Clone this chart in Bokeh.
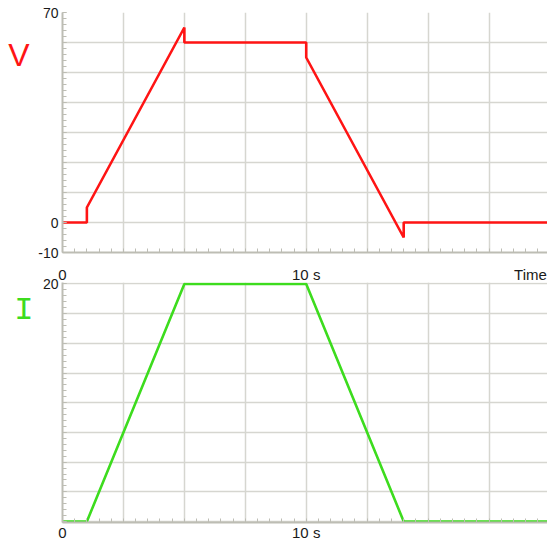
from bokeh.plotting import figure
from bokeh.models import Range1d, FixedTicker, LinearAxis
from bokeh.layouts import column
from bokeh.embed import file_html
from bokeh.resources import INLINE

# ---- data ----
time_v = [0, 1, 1, 5, 5, 10, 10, 14, 14, 19.9]
voltage = [0, 0, 5, 65, 60, 60, 55, -5, 0, 0]
time_i = [0, 1, 5, 10, 14, 19.9]
current = [0, 0, 20, 20, 0, 0]

x_grid = [0, 2.5, 5, 7.5, 10, 12.5, 15, 17.5, 20]
x_minor = [k * 0.5 for k in range(0, 41)]
x_labels_top = {0: "0", 10: "10 s", 19.2: "Time"}
x_labels_bottom = {0: "0", 10: "10 s"}

v_grid = [-10, 0, 10, 20, 30, 40, 50, 60, 70]
v_minor = list(range(-10, 71, 2))
v_labels = {70: "70", 0: "0", -10: "-10"}

i_grid = [0, 2.5, 5, 7.5, 10, 12.5, 15, 17.5, 20]
i_minor = [k * 0.5 for k in range(0, 41)]
i_labels = {20: "20"}

FONT = "Liberation Sans"
GRID = "#d6d6d0"
AXIS = "#bdbdb4"
RED = "#ff1414"
GREEN = "#3ddc1e"
INK = "#1a1a1a"


def base_axis(ax, size, standoff):
    ax.axis_line_color = AXIS
    ax.axis_line_width = 2
    ax.major_tick_line_color = AXIS
    ax.minor_tick_line_color = AXIS
    ax.major_tick_out = 0
    ax.minor_tick_in = 4
    ax.minor_tick_out = 0
    ax.major_label_text_font = FONT
    ax.major_label_text_font_size = size
    ax.major_label_text_color = INK
    ax.major_label_standoff = standoff


def style(p, x_labels, y_grid, y_minor, y_labels, x_standoff, x_size="15px"):
    p.outline_line_color = None
    p.background_fill_color = "white"
    p.border_fill_color = "white"
    xa = p.xaxis[0]
    base_axis(xa, x_size, x_standoff)
    xa.ticker = FixedTicker(ticks=list(x_labels.keys()), minor_ticks=x_minor)
    xa.major_label_overrides = x_labels
    xa.major_tick_in = 0
    ya = p.yaxis[0]
    base_axis(ya, "14px", 4)
    ya.ticker = FixedTicker(ticks=y_grid, minor_ticks=y_minor)
    ya.major_label_overrides = {t: y_labels.get(t, "") for t in y_grid}
    ya.major_tick_in = 4
    p.xgrid.ticker = FixedTicker(ticks=x_grid)
    p.ygrid.ticker = FixedTicker(ticks=y_grid)
    p.grid.grid_line_color = GRID
    p.grid.grid_line_width = 1.5


def label_axis(p, side, ticks, labels, color, font, size, standoff):
    ax = LinearAxis(ticker=FixedTicker(ticks=ticks, minor_ticks=[]),
                    major_label_overrides=labels)
    ax.axis_line_color = None
    ax.major_tick_line_color = None
    ax.minor_tick_line_color = None
    ax.major_tick_in = 0
    ax.major_tick_out = 0
    ax.minor_tick_in = 0
    ax.minor_tick_out = 0
    ax.major_label_text_color = color
    ax.major_label_text_font = font
    ax.major_label_text_font_size = size
    ax.major_label_standoff = standoff
    p.add_layout(ax, side)


# ---- top: voltage ----
p1 = figure(width=547, height=262, output_backend="svg", toolbar_location=None,
            x_range=Range1d(0, 19.9), y_range=Range1d(-10, 70),
            min_border_left=62, min_border_right=0, min_border_top=12, min_border_bottom=10)
# tick marks only here; the time labels are drawn by the next panel's upper axis
style(p1, {t: "" for t in x_labels_top}, v_grid, v_minor, v_labels, 0, x_size="0px")
p1.line(time_v, voltage, line_color=RED, line_width=2.6)
label_axis(p1, "left", [56], {56: "V"}, RED, "Liberation Sans", "32px", 6)

# ---- bottom: current ----
p2 = figure(width=547, height=281, output_backend="svg", toolbar_location=None,
            x_range=Range1d(0, 19.9), y_range=Range1d(-0.084, 20.126),
            min_border_left=62, min_border_right=0, min_border_top=20, min_border_bottom=21)
style(p2, x_labels_bottom, i_grid, i_minor, i_labels, 1)
p2.line(time_i, current, line_color=GREEN, line_width=2.6)
label_axis(p2, "left", [17.75], {17.75: "I"}, GREEN, "Liberation Mono", "32px", 6)
label_axis(p2, "above", list(x_labels_top.keys()), x_labels_top, INK, FONT, "15px", 0)

layout = column(p1, p2, spacing=0)
open("out.html", "w").write(file_html(layout, INLINE))
